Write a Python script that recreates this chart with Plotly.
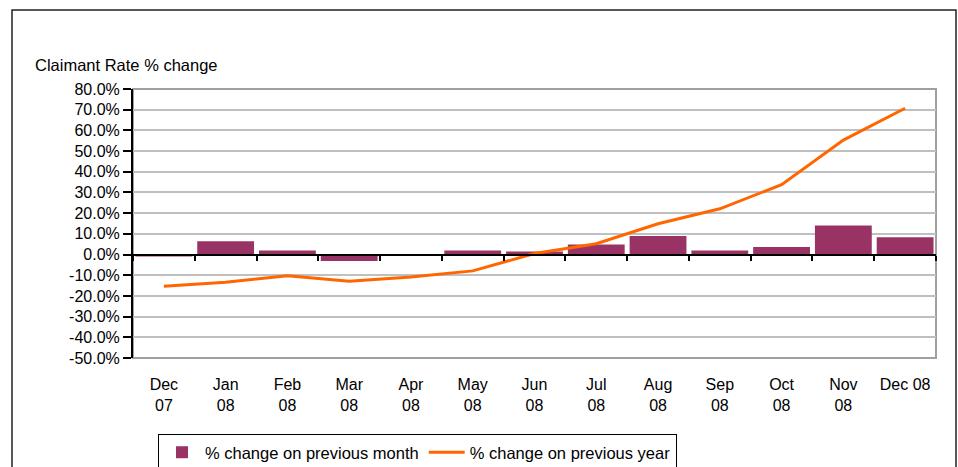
import plotly.graph_objects as go

categories = ["Dec<br>07", "Jan<br>08", "Feb<br>08", "Mar<br>08", "Apr<br>08", "May<br>08", "Jun<br>08",
              "Jul<br>08", "Aug<br>08", "Sep<br>08", "Oct<br>08", "Nov<br>08", "Dec 08"]
month_change = [-1.0, 6.4, 2.0, -3.1, 0.0, 2.0, 1.5, 4.9, 8.9, 2.0, 3.6, 14.0, 8.4]
year_change = [-15.3, -13.4, -10.2, -12.9, -10.8, -7.9, 0.5, 5.2, 14.9, 22.1, 33.8, 55.3, 70.7]
y_ticks = [80, 70, 60, 50, 40, 30, 20, 10, 0, -10, -20, -30, -40, -50]
y_tick_labels = ["80.0%", "70.0%", "60.0%", "50.0%", "40.0%", "30.0%", "20.0%", "10.0%", "0.0%",
                 "-10.0%", "-20.0%", "-30.0%", "-40.0%", "-50.0%"]

FONT = "Liberation Sans, Arial, sans-serif"
W, H = 958, 467
L, R, T, B = 133, 22, 89, 109
pw, ph = W - L - R, H - T - B
ymin, ymax = -50, 80


def px_x(p):
    return (p - L) / pw


def px_y(p):
    return (H - B - p) / ph


fig = go.Figure()
fig.add_trace(go.Bar(x=categories, y=month_change, name="% change on previous month",
                     marker=dict(color="#993366", line=dict(width=0)), xaxis="x", yaxis="y"))
fig.add_trace(go.Scatter(x=categories, y=year_change, name="% change on previous year",
                         mode="lines", line=dict(color="#FF6600", width=3), xaxis="x2", yaxis="y"))

fig.update_layout(
    width=W, height=H,
    margin=dict(l=L, r=R, t=T, b=B, pad=0, autoexpand=False),
    paper_bgcolor="white", plot_bgcolor="white",
    font=dict(family=FONT, size=16, color="black"),
    bargap=0.08,
    showlegend=True,
    legend=dict(orientation="h", xref="container", yref="container",
                x=158 / W, y=1 - 434 / H, xanchor="left", yanchor="top",
                bordercolor="#000000", borderwidth=1, font=dict(size=16.5, family=FONT),
                itemwidth=36, tracegroupgap=0),
    xaxis=dict(type="category", showgrid=False, showline=False, ticks="", ticklabelstandoff=15,
               automargin=False, tickfont=dict(size=16, family=FONT)),
    xaxis2=dict(type="category", overlaying="x", matches="x", anchor="free",
                position=(0 - ymin) / (ymax - ymin), side="bottom",
                showline=True, linecolor="black", linewidth=2, ticks="outside", tickson="boundaries",
                ticklen=5, tickwidth=2, tickcolor="black", showticklabels=False, showgrid=False),
    yaxis=dict(range=[ymin, ymax], tickvals=y_ticks, ticktext=y_tick_labels, automargin=False,
               showgrid=True, gridcolor="#c0c0c0", gridwidth=2, zeroline=False,
               showline=True, linecolor="black", linewidth=2, ticks="outside", ticklen=8,
               tickwidth=2, tickcolor="black", tickfont=dict(size=16, family=FONT)),
    shapes=[
        dict(type="rect", xref="paper", yref="paper", x0=0, x1=1, y0=0, y1=1,
             line=dict(color="#a0a0a0", width=2), layer="below"),
        dict(type="rect", xref="paper", yref="paper", x0=px_x(12), x1=px_x(956), y0=px_y(480), y1=px_y(10),
             line=dict(color="#222222", width=1.5), layer="above"),
    ],
    annotations=[dict(text="Claimant Rate % change", xref="paper", yref="paper",
                      x=px_x(33), y=px_y(65), xanchor="left", yanchor="middle", showarrow=False,
                      font=dict(size=16.5, family=FONT, color="black"))],
)

fig.write_html("out.html", config={"displayModeBar": False},
               post_script="document.body.style.margin='0px';document.body.style.overflow='hidden';")
